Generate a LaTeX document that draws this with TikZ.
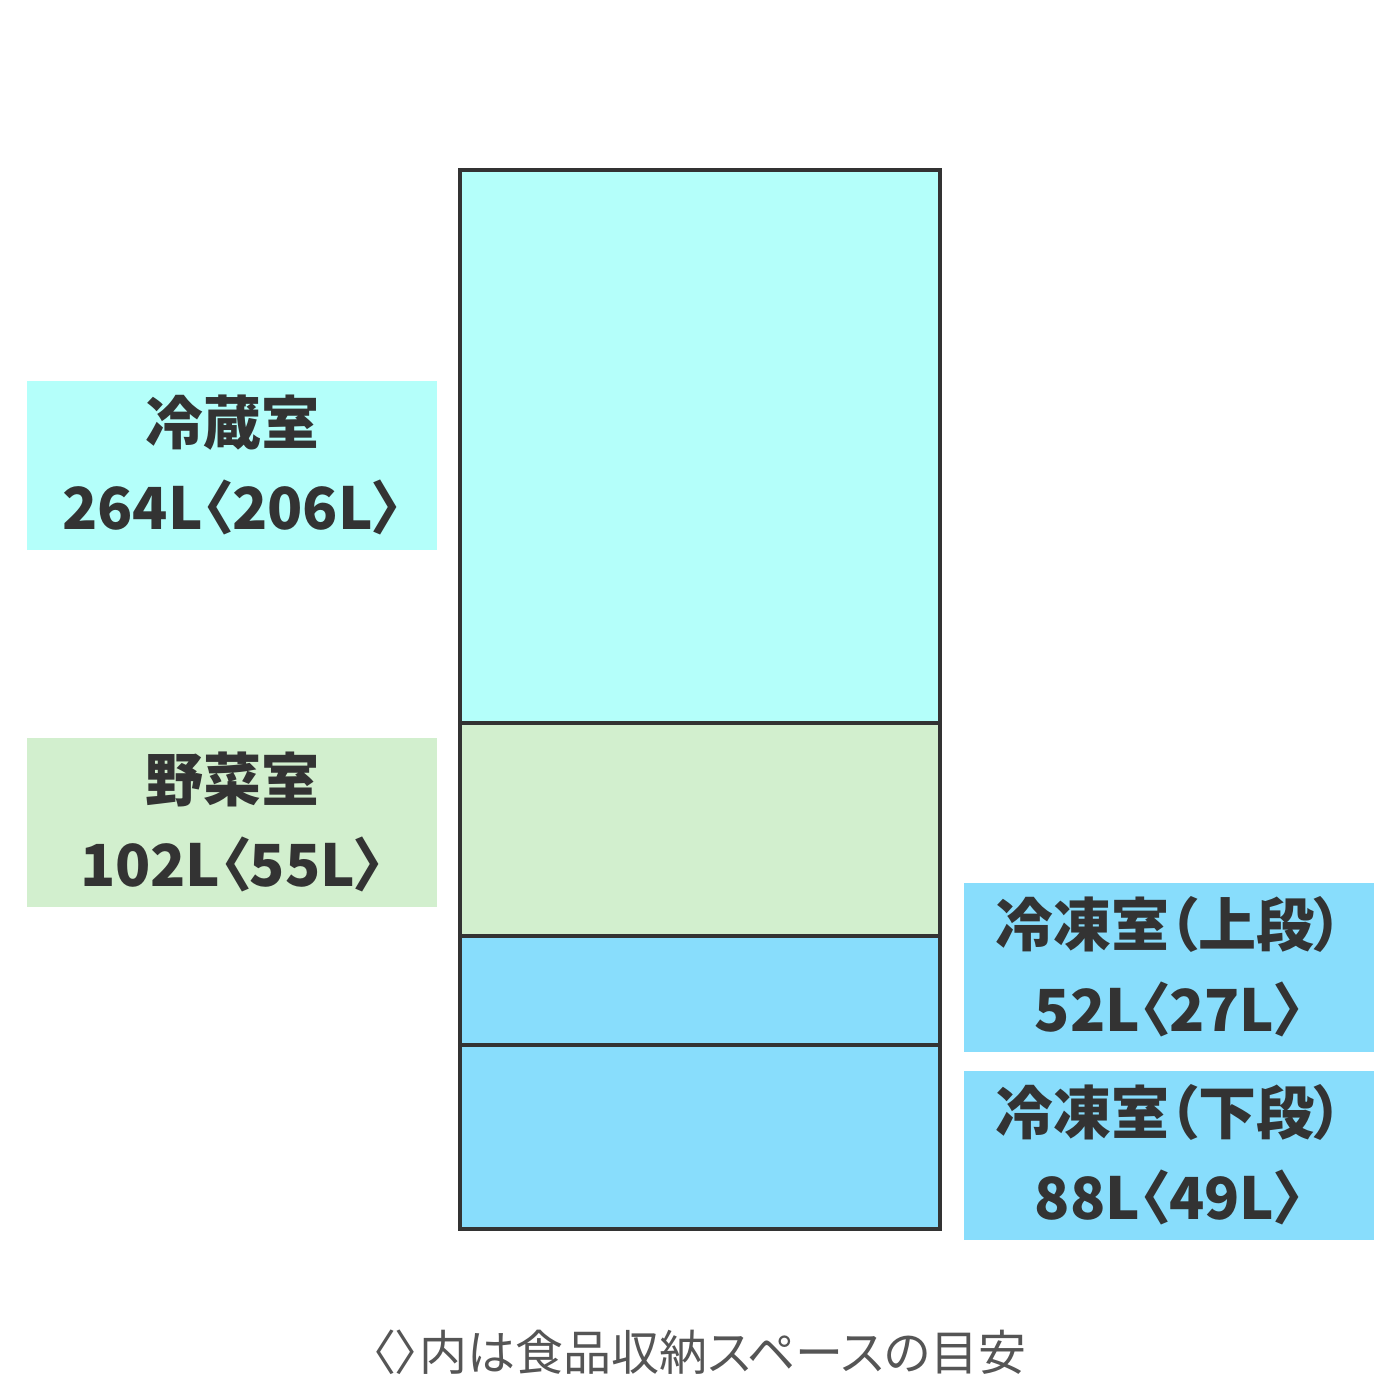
\documentclass[tikz,border=0pt]{standalone}
\usepackage{fontspec}
\setmainfont{Noto Sans CJK JP}[RawFeature=+palt]
\definecolor{fridgecyan}{HTML}{B4FFFA}
\definecolor{vegegreen}{HTML}{D2EFCE}
\definecolor{freezeblue}{HTML}{88DDFC}
\definecolor{inkgray}{HTML}{333333}
\definecolor{notegray}{HTML}{555555}

\begin{document}
\begin{tikzpicture}[x=1pt,y=-1pt,
    roomlabel/.style={rectangle,minimum width=410pt,minimum height=169pt,
      inner sep=0pt,align=center,text=inkgray,
      font=\fontsize{58}{85}\selectfont\bfseries}]
  \useasboundingbox[fill=white] (0,0) rectangle (1400,1400);

  % Compartments
  \fill[fridgecyan] (460,170) rectangle (940,723);
  \fill[vegegreen] (460,723) rectangle (940,936);
  \fill[freezeblue] (460,936) rectangle (940,1229);

  % Dividers and body
  \draw[line width=4.5pt,inkgray] (460,723) -- (940,723);
  \draw[line width=4.5pt,inkgray] (460,936) -- (940,936);
  \draw[line width=4.5pt,inkgray] (460,1045) -- (940,1045);
  \draw[line width=4.5pt,inkgray] (460,170) rectangle (940,1229);

  % Labels
  \node[roomlabel,fill=fridgecyan] (fridge) at (232,465)
    {冷蔵室\\264L〈206L〉};
  \node[roomlabel,fill=vegegreen] (vege) at (232,822)
    {野菜室\\102L〈55L〉};
  \node[roomlabel,fill=freezeblue] (upper) at (1169,967)
    {冷凍室（上段）\\52L〈27L〉};
  \node[roomlabel,fill=freezeblue] (lower) at (1169,1155)
    {冷凍室（下段）\\88L〈49L〉};

  % Note
  \node[text=notegray,font=\fontsize{48}{50}\selectfont] (note) at (699,1352)
    {〈〉内は食品収納スペースの目安};
\end{tikzpicture}
\end{document}
